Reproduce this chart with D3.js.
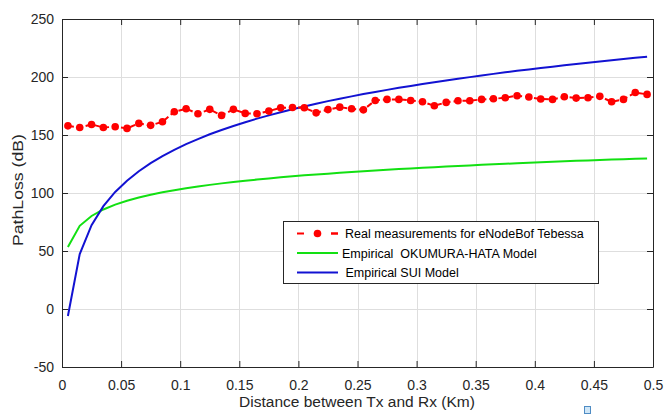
<!DOCTYPE html>
<meta charset="utf-8">
<style>
body { margin: 0; background: #fff; }
svg { font-family: "Liberation Sans", Arial, sans-serif; }
.grid line { stroke: #dedede; stroke-width: 1; }
.tick-label { font-size: 14px; fill: #262626; }
.legend text { font-size: 12.5px; fill: #000; white-space: pre; }
</style>
<body>
<script src="https://cdn.jsdelivr.net/npm/d3@7"></script>
<script>

var width = 664,
    height = 416;

// distance from the eNodeB (km)
var distance = [0.005, 0.015, 0.025, 0.035, 0.045, 0.055, 0.065, 0.075, 0.085, 0.095,
                0.105, 0.115, 0.125, 0.135, 0.145, 0.155, 0.165, 0.175, 0.185, 0.195,
                0.205, 0.215, 0.225, 0.235, 0.245, 0.255, 0.265, 0.275, 0.285, 0.295,
                0.305, 0.315, 0.325, 0.335, 0.345, 0.355, 0.365, 0.375, 0.385, 0.395,
                0.405, 0.415, 0.425, 0.435, 0.445, 0.455, 0.465, 0.475, 0.485, 0.495];

// measured path loss (dB)
var measured = [157.9, 156.5, 159.1, 156.5, 157.1, 155.7, 160.0, 158.3, 161.4, 170.0,
                172.6, 168.3, 172.1, 166.9, 172.1, 168.6, 168.3, 170.6, 173.4, 173.7,
                173.5, 169.1, 171.9, 174.0, 172.6, 171.7, 179.8, 180.7, 180.7, 179.8,
                178.6, 175.2, 178.1, 179.5, 179.5, 180.7, 181.2, 182.1, 183.9, 182.7,
                181.0, 180.7, 183.0, 181.8, 182.1, 183.3, 178.6, 180.7, 186.7, 185.0];

// Okumura-Hata model (dB)
var hata = [53.5, 71.7, 80.2, 85.8, 90.0, 93.3, 96.1, 98.5, 100.6, 102.4,
            104.1, 105.6, 107.0, 108.3, 109.4, 110.5, 111.6, 112.6, 113.5, 114.4,
            115.2, 116.0, 116.7, 117.5, 118.2, 118.8, 119.5, 120.1, 120.7, 121.2,
            121.8, 122.3, 122.8, 123.3, 123.8, 124.3, 124.8, 125.2, 125.7, 126.1,
            126.5, 126.9, 127.3, 127.7, 128.1, 128.4, 128.8, 129.1, 129.5, 129.8];

// SUI model (dB)
var sui = [-6.0, 47.4, 72.3, 88.7, 100.9, 110.6, 118.8, 125.7, 131.8, 137.2,
           142.1, 146.5, 150.6, 154.3, 157.8, 161.0, 164.1, 166.9, 169.6, 172.2,
           174.6, 177.0, 179.2, 181.3, 183.3, 185.3, 187.1, 188.9, 190.7, 192.3,
           194.0, 195.5, 197.0, 198.5, 199.9, 201.3, 202.7, 204.0, 205.3, 206.5,
           207.8, 208.9, 210.1, 211.2, 212.3, 213.4, 214.5, 215.5, 216.5, 217.5];

var xTicks = [0, 0.05, 0.1, 0.15, 0.2, 0.25, 0.3, 0.35, 0.4, 0.45, 0.5];
var xTickLabels = ["0", "0.05", "0.1", "0.15", "0.2", "0.25", "0.3", "0.35", "0.4", "0.45", "0.5"];
var yTicks = [-50, 0, 50, 100, 150, 200, 250];
var yTickLabels = ["-50", "0", "50", "100", "150", "200", "250"];

var legendLabels = ["Real measurements for eNodeBof Tebessa",
                    "Empirical  OKUMURA-HATA Model",
                    " Empirical SUI Model"];

var plotLeft = 62, plotRight = 653, plotTop = 19, plotBottom = 367;

var x = d3.scaleLinear().domain([0, 0.5]).range([plotLeft, plotRight]);
var y = d3.scaleLinear().domain([-50, 250]).range([plotBottom, plotTop]);

var svg = d3.select("body").append("svg")
    .attr("width", width)
    .attr("height", height);

// grid
var grid = svg.append("g").attr("class", "grid");
grid.selectAll("line.v")
    .data(xTicks.slice(1, -1))
  .enter().append("line")
    .attr("x1", function(d){ return Math.round(x(d)) + 0.5; })
    .attr("x2", function(d){ return Math.round(x(d)) + 0.5; })
    .attr("y1", plotTop).attr("y2", plotBottom);
grid.selectAll("line.h")
    .data(yTicks.slice(1, -1))
  .enter().append("line")
    .attr("y1", function(d){ return Math.round(y(d)) + 0.5; })
    .attr("y2", function(d){ return Math.round(y(d)) + 0.5; })
    .attr("x1", plotLeft).attr("x2", plotRight);

// axes on all four sides, ticks pointing inwards
function styleAxis(g){
  g.attr("font-family", null).attr("font-size", null);
  g.select(".domain").attr("stroke", "#262626");
  g.selectAll(".tick line").attr("stroke", "#262626");
  g.selectAll(".tick text").attr("class", "tick-label");
}

svg.append("g")
    .attr("transform", "translate(0," + plotBottom + ")")
    .call(d3.axisBottom(x).tickValues(xTicks).tickSizeInner(-6).tickSizeOuter(0)
      .tickFormat(function(d, i){ return xTickLabels[i]; }).tickPadding(13))
    .call(styleAxis);

svg.append("g")
    .attr("transform", "translate(0," + plotTop + ")")
    .call(d3.axisTop(x).tickValues(xTicks).tickSizeInner(-6).tickSizeOuter(0).tickFormat(""))
    .call(styleAxis);

svg.append("g")
    .attr("transform", "translate(" + plotLeft + ",0)")
    .call(d3.axisLeft(y).tickValues(yTicks).tickSizeInner(-6).tickSizeOuter(0)
      .tickFormat(function(d, i){ return yTickLabels[i]; }).tickPadding(8))
    .call(styleAxis);

svg.append("g")
    .attr("transform", "translate(" + plotRight + ",0)")
    .call(d3.axisRight(y).tickValues(yTicks).tickSizeInner(-6).tickSizeOuter(0).tickFormat(""))
    .call(styleAxis);

// curves
var line = d3.line()
    .x(function(d){ return x(d[0]); })
    .y(function(d){ return y(d[1]); });

svg.append("path")
    .datum(d3.zip(distance, hata))
    .attr("d", line)
    .attr("fill", "none")
    .attr("stroke", "#12e012")
    .attr("stroke-width", 2);

svg.append("path")
    .datum(d3.zip(distance, sui))
    .attr("d", line)
    .attr("fill", "none")
    .attr("stroke", "#1212d2")
    .attr("stroke-width", 2);

svg.append("path")
    .datum(d3.zip(distance, measured))
    .attr("d", line)
    .attr("fill", "none")
    .attr("stroke", "#ff0000")
    .attr("stroke-width", 2)
    .attr("stroke-dasharray", "6,3");

svg.append("g").selectAll("circle")
    .data(d3.zip(distance, measured))
  .enter().append("circle")
    .attr("cx", function(d){ return x(d[0]); })
    .attr("cy", function(d){ return y(d[1]); })
    .attr("r", 3.8)
    .attr("fill", "#ff0000");

// axis titles
svg.append("text")
    .attr("x", 357)
    .attr("y", 407)
    .attr("text-anchor", "middle")
    .style("font-size", "15.5px")
    .attr("fill", "#262626")
    .text("Distance between Tx and Rx (Km)");

svg.append("text")
    .attr("transform", "translate(23,190) rotate(-90)")
    .attr("text-anchor", "middle")
    .style("font-size", "15px")
    .attr("textLength", 112)
    .attr("lengthAdjust", "spacingAndGlyphs")
    .attr("fill", "#262626")
    .text("PathLoss (dB)");

// legend
var legend = svg.append("g").attr("class", "legend");
legend.append("rect")
    .attr("x", 283.5).attr("y", 221.5)
    .attr("width", 315).attr("height", 62)
    .attr("fill", "#fff")
    .attr("stroke", "#262626");

var legendColors = ["#ff0000", "#12e012", "#1212d2"];
var rowY = [233.5, 253, 272.5];
var textX = [345, 342, 342];

legend.selectAll("line.sample")
    .data(legendColors)
  .enter().append("line")
    .attr("x1", 297).attr("x2", 338)
    .attr("y1", function(d, i){ return rowY[i]; })
    .attr("y2", function(d, i){ return rowY[i]; })
    .attr("stroke", function(d){ return d; })
    .attr("stroke-width", 2)
    .attr("stroke-dasharray", function(d, i){ return i === 0 ? "7,27" : null; });

legend.append("line")
    .attr("x1", 331).attr("x2", 338)
    .attr("y1", rowY[0]).attr("y2", rowY[0])
    .attr("stroke", "#ff0000").attr("stroke-width", 2);

legend.append("circle")
    .attr("cx", 317.5).attr("cy", rowY[0]).attr("r", 3.8)
    .attr("fill", "#ff0000");

legend.selectAll("text")
    .data(legendLabels)
  .enter().append("text")
    .attr("x", function(d, i){ return textX[i]; })
    .attr("y", function(d, i){ return rowY[i] + 4.5; })
    .text(function(d){ return d; });

// small marker below the axis
svg.append("rect")
    .attr("x", 584.5).attr("y", 406.5)
    .attr("width", 6).attr("height", 7)
    .attr("fill", "#cfe6f7")
    .attr("stroke", "#4f8cc4");

</script>
